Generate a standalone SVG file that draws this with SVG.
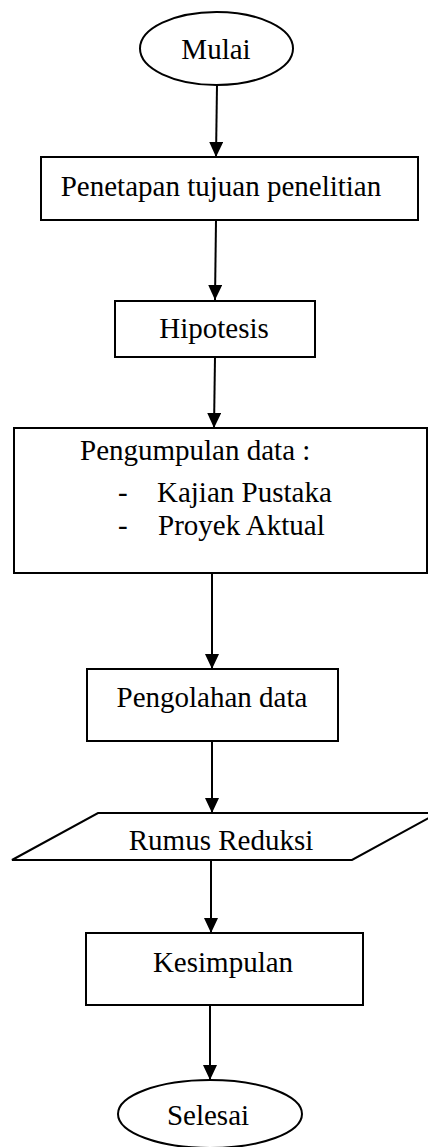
<svg xmlns="http://www.w3.org/2000/svg" width="428" height="1147" viewBox="0 0 428 1147">
<style>
.s{fill:#fff;stroke:#000;stroke-width:2}
.t{font-family:"Liberation Serif","Times New Roman",serif;font-size:29px;fill:#000}
.c{stroke:#000;stroke-width:2;fill:none}
</style>
<defs>
<marker id="ah" markerUnits="userSpaceOnUse" markerWidth="16" markerHeight="14" refX="15" refY="7" orient="auto" viewBox="0 0 16 14">
<path d="M0,0 L15,7 L0,14 Z" fill="#000"/>
</marker>
</defs>
<rect width="428" height="1147" fill="#fff"/>
<g id="connectors">
<line class="c" x1="217" y1="85" x2="216" y2="157" marker-end="url(#ah)"/>
<line class="c" x1="216" y1="220" x2="215" y2="300" marker-end="url(#ah)"/>
<line class="c" x1="215" y1="357" x2="214" y2="428" marker-end="url(#ah)"/>
<line class="c" x1="212" y1="573" x2="212" y2="669" marker-end="url(#ah)"/>
<line class="c" x1="212" y1="741" x2="212" y2="813" marker-end="url(#ah)"/>
<line class="c" x1="211" y1="860" x2="211" y2="933" marker-end="url(#ah)"/>
<line class="c" x1="210" y1="1005" x2="210" y2="1080" marker-end="url(#ah)"/>
</g>
<g id="mulai">
<ellipse class="s" cx="216.5" cy="48.5" rx="76.5" ry="36.5"/>
<text class="t" x="216" y="59" text-anchor="middle">Mulai</text>
</g>
<g id="penetapan">
<rect class="s" x="41" y="157" width="377" height="63"/>
<text class="t" x="221" y="196" text-anchor="middle">Penetapan tujuan penelitian</text>
</g>
<g id="hipotesis">
<rect class="s" x="115" y="301" width="200" height="56"/>
<text class="t" x="214" y="338" text-anchor="middle">Hipotesis</text>
</g>
<g id="pengumpulan">
<rect class="s" x="14" y="428" width="413" height="145"/>
<text class="t" x="80" y="460">Pengumpulan data :</text>
<text class="t" x="118" y="502">-</text>
<text class="t" x="157" y="502">Kajian Pustaka</text>
<text class="t" x="118" y="535">-</text>
<text class="t" x="158" y="535">Proyek Aktual</text>
</g>
<g id="pengolahan">
<rect class="s" x="87" y="669" width="251" height="72"/>
<text class="t" x="212" y="707" text-anchor="middle">Pengolahan data</text>
</g>
<g id="rumus">
<polygon class="s" points="98,813 438,813 352,860 12,860"/>
<text class="t" x="221" y="850" text-anchor="middle">Rumus Reduksi</text>
</g>
<g id="kesimpulan">
<rect class="s" x="86" y="933" width="277" height="72"/>
<text class="t" x="223" y="972" text-anchor="middle">Kesimpulan</text>
</g>
<g id="selesai">
<ellipse class="s" cx="210" cy="1114" rx="92" ry="34"/>
<text class="t" x="208" y="1125" text-anchor="middle">Selesai</text>
</g>
</svg>
